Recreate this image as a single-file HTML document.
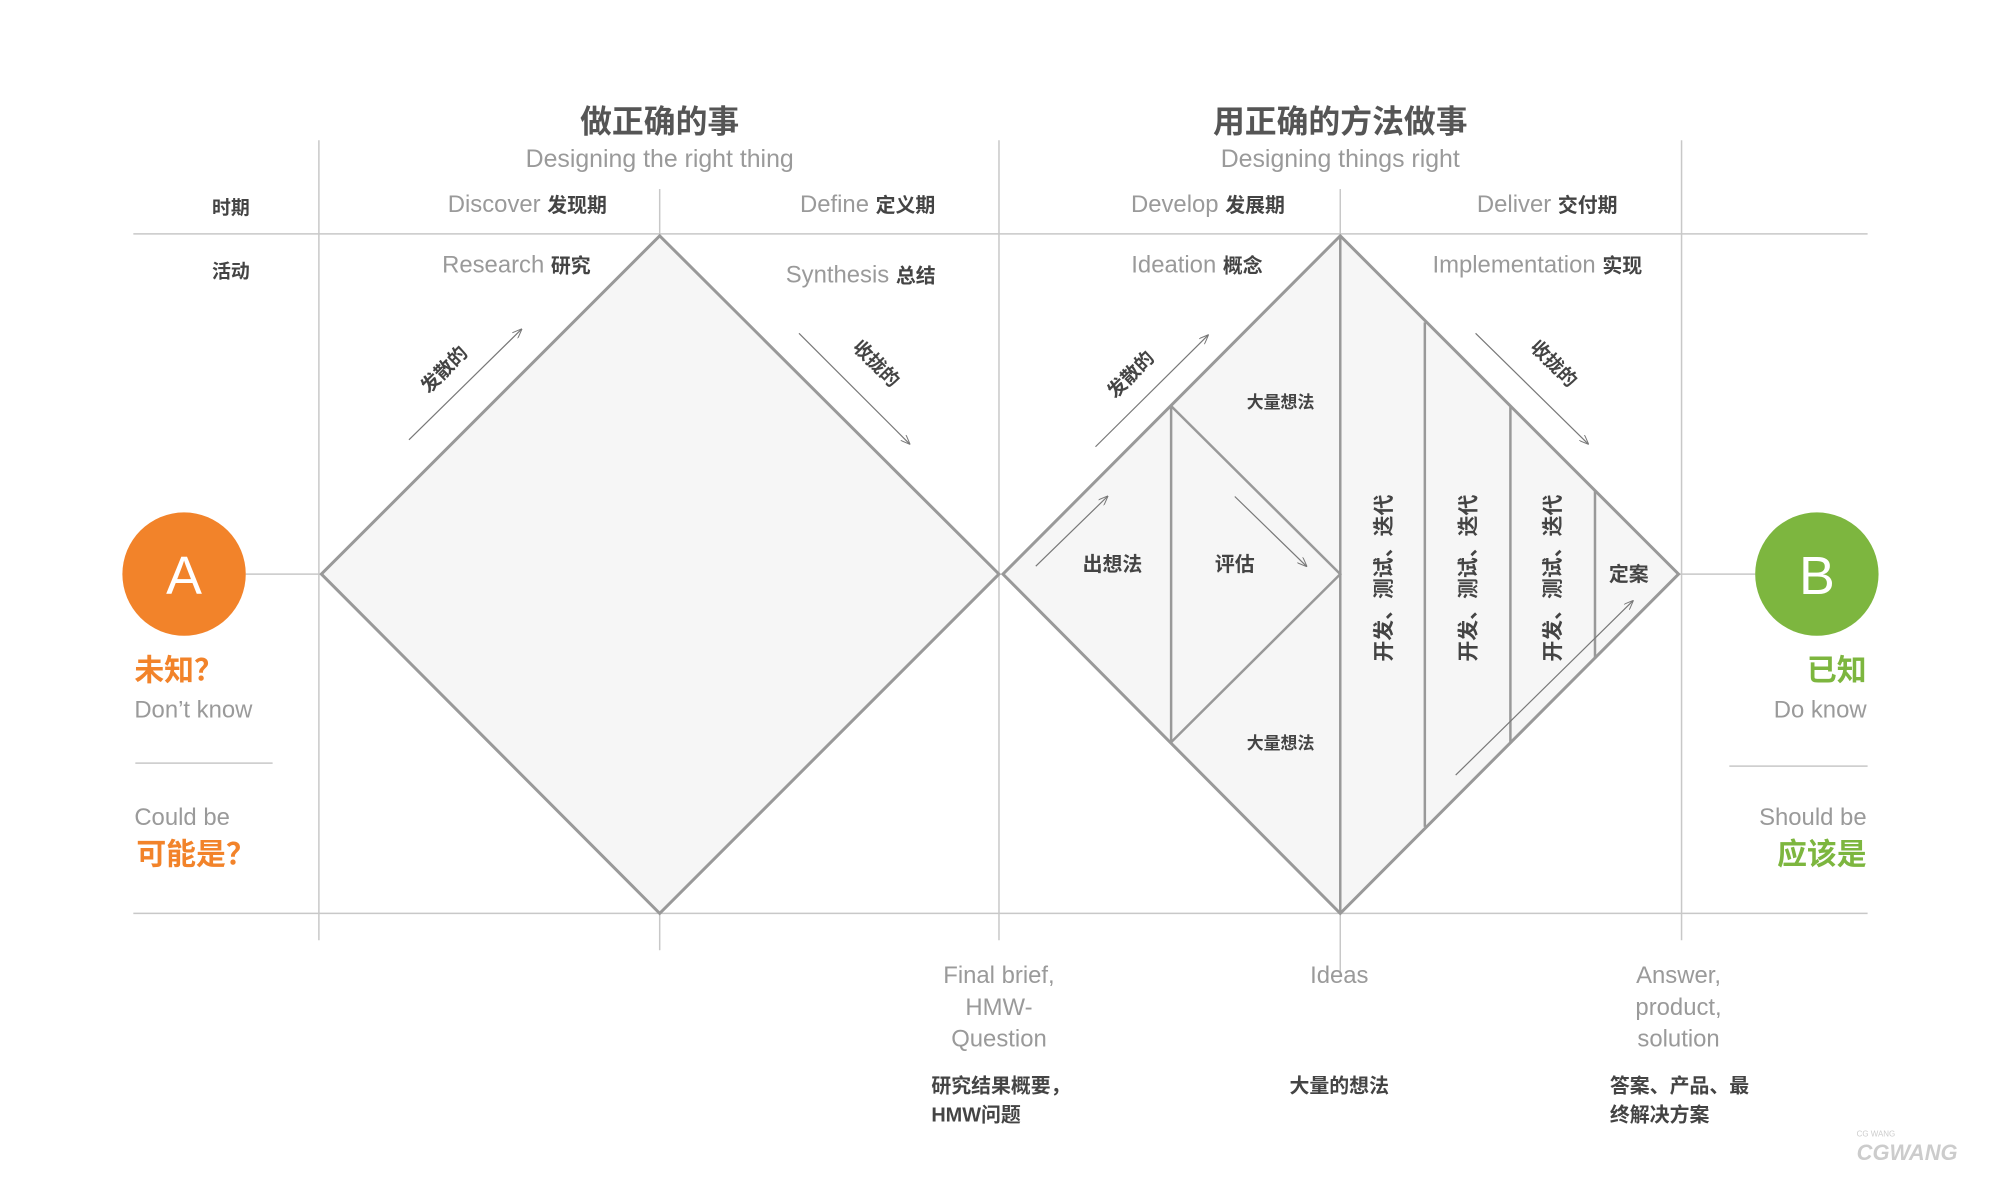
<!DOCTYPE html>
<html><head><meta charset="utf-8"><style>
html,body{margin:0;padding:0;background:#fff;}
svg{display:block;}
text{font-family:"Liberation Sans","Noto Sans CJK SC",sans-serif;}
.cn{font-family:"Liberation Sans","Noto Sans CJK SC",sans-serif;font-weight:bold;}
.g{fill:#9a9a9a;}
.d{fill:#444;}
</style></head><body>
<svg width="2000" height="1186" viewBox="0 0 2000 1186" xmlns="http://www.w3.org/2000/svg">
<defs>
<marker id="ah" markerWidth="10" markerHeight="8" refX="9" refY="4" orient="auto" markerUnits="userSpaceOnUse">
<path d="M0,0 L10,4 L0,8" fill="none" stroke="#777" stroke-width="1"/>
</marker>
</defs>
<g transform="scale(0.995)">
<!-- grid -->
<g stroke="#c8c8c8" stroke-width="1.5" fill="none">
<line x1="134" y1="235" x2="1877" y2="235"/>
<line x1="134" y1="918" x2="1877" y2="918"/>
<line x1="320.5" y1="141" x2="320.5" y2="945"/>
<line x1="1004" y1="141" x2="1004" y2="945"/>
<line x1="1690" y1="141" x2="1690" y2="945"/>
<line x1="663" y1="190" x2="663" y2="235"/>
<line x1="663" y1="918" x2="663" y2="955"/>
<line x1="1347" y1="190" x2="1347" y2="235"/>
<line x1="1347" y1="918" x2="1347" y2="981"/>
<line x1="247" y1="577" x2="323" y2="577"/>
<line x1="1687" y1="577" x2="1764" y2="577"/>
<line x1="136" y1="767" x2="274" y2="767"/>
<line x1="1738" y1="770" x2="1877" y2="770"/>
</g>
<!-- diamonds -->
<g stroke="#999" stroke-width="3" fill="#f6f6f6" stroke-linejoin="miter">
<polygon points="323,577 663,237 1004,577 663,918"/>
<polygon points="1008,577 1347,237 1687,577 1347,918"/>
</g>
<g stroke="#999" stroke-width="2.5" fill="none">
<polyline points="1177,408 1347,577 1177,746"/>
<line x1="1177" y1="408" x2="1177" y2="746"/>
<line x1="1347" y1="237" x2="1347" y2="918"/>
<line x1="1432" y1="324" x2="1432" y2="831"/>
<line x1="1518" y1="409" x2="1518" y2="746"/>
<line x1="1603" y1="494" x2="1603" y2="662"/>
</g>
<!-- arrows -->
<g stroke="#777" stroke-width="1.2" marker-end="url(#ah)">
<line x1="411" y1="442" x2="524" y2="331"/>
<line x1="803" y1="335" x2="914" y2="446"/>
<line x1="1101" y1="449" x2="1214" y2="337"/>
<line x1="1483" y1="335" x2="1596" y2="446"/>
<line x1="1041" y1="569" x2="1113" y2="499"/>
<line x1="1241" y1="499" x2="1313" y2="569"/>
<line x1="1463" y1="779" x2="1641" y2="604"/>
</g>
<!-- circles -->
<circle cx="185" cy="577" r="62" fill="#F2832A"/>
<circle cx="1826" cy="577" r="62" fill="#7DB63F"/>
<text x="185" y="597" text-anchor="middle" font-size="54" fill="#fff">A</text>
<text x="1826" y="597" text-anchor="middle" font-size="54" fill="#fff">B</text>
<!-- titles -->
<text x="663" y="133" text-anchor="middle" font-size="32" class="cn" fill="#555">做正确的事</text>
<text x="663" y="168" text-anchor="middle" font-size="25" class="g">Designing the right thing</text>
<text x="1347" y="133" text-anchor="middle" font-size="32" class="cn" fill="#555">用正确的方法做事</text>
<text x="1347" y="168" text-anchor="middle" font-size="25" class="g">Designing things right</text>
<text x="232" y="215" text-anchor="middle" font-size="19" class="cn d">时期</text>
<text x="232" y="279" text-anchor="middle" font-size="19" class="cn d">活动</text>
<text x="530" y="213" text-anchor="middle" font-size="24"><tspan class="g">Discover </tspan><tspan class="cn d" font-size="20">发现期</tspan></text>
<text x="872" y="213" text-anchor="middle" font-size="24"><tspan class="g">Define </tspan><tspan class="cn d" font-size="20">定义期</tspan></text>
<text x="1214" y="213" text-anchor="middle" font-size="24"><tspan class="g">Develop </tspan><tspan class="cn d" font-size="20">发展期</tspan></text>
<text x="1555" y="213" text-anchor="middle" font-size="24"><tspan class="g">Deliver </tspan><tspan class="cn d" font-size="20">交付期</tspan></text>
<text x="519" y="274" text-anchor="middle" font-size="24"><tspan class="g">Research </tspan><tspan class="cn d" font-size="20">研究</tspan></text>
<text x="865" y="284" text-anchor="middle" font-size="24"><tspan class="g">Synthesis  </tspan><tspan class="cn d" font-size="20">总结</tspan></text>
<text x="1203" y="274" text-anchor="middle" font-size="24"><tspan class="g">Ideation </tspan><tspan class="cn d" font-size="20">概念</tspan></text>
<text x="1545" y="274" text-anchor="middle" font-size="24"><tspan class="g">Implementation  </tspan><tspan class="cn d" font-size="20">实现</tspan></text>
<!-- rotated labels -->
<text transform="translate(451,376) rotate(-45)" text-anchor="middle" font-size="19" class="cn d">发散的</text>
<text transform="translate(876,370) rotate(45)" text-anchor="middle" font-size="19" class="cn d">收拢的</text>
<text transform="translate(1141,381) rotate(-45)" text-anchor="middle" font-size="19" class="cn d">发散的</text>
<text transform="translate(1557,370) rotate(45)" text-anchor="middle" font-size="19" class="cn d">收拢的</text>
<text x="1118" y="574" text-anchor="middle" font-size="20" class="cn d">出想法</text>
<text x="1241" y="574" text-anchor="middle" font-size="20" class="cn d">评估</text>
<text x="1287" y="410" text-anchor="middle" font-size="17" class="cn d">大量想法</text>
<text x="1287" y="753" text-anchor="middle" font-size="17" class="cn d">大量想法</text>
<text x="1637" y="584" text-anchor="middle" font-size="20" class="cn d">定案</text>
<text transform="translate(1398,581) rotate(-90)" text-anchor="middle" font-size="21" class="cn d">开发、测试、迭代</text>
<text transform="translate(1483,581) rotate(-90)" text-anchor="middle" font-size="21" class="cn d">开发、测试、迭代</text>
<text transform="translate(1568,581) rotate(-90)" text-anchor="middle" font-size="21" class="cn d">开发、测试、迭代</text>
<!-- side labels -->
<text x="135" y="684" font-size="30" class="cn" fill="#F2832A">未知？</text>
<text x="135" y="721" font-size="24" class="g">Don’t know</text>
<text x="135" y="829" font-size="24" class="g">Could be</text>
<text x="137" y="869" font-size="30" class="cn" fill="#F2832A">可能是？</text>
<text x="1876" y="684" text-anchor="end" font-size="30" class="cn" fill="#7DB63F">已知</text>
<text x="1876" y="721" text-anchor="end" font-size="24" class="g">Do know</text>
<text x="1876" y="829" text-anchor="end" font-size="24" class="g">Should be</text>
<text x="1876" y="869" text-anchor="end" font-size="30" class="cn" fill="#7DB63F">应该是</text>
<!-- bottom -->
<g font-size="24" class="g" text-anchor="middle">
<text x="1004" y="988">Final brief,</text>
<text x="1004" y="1020">HMW-</text>
<text x="1004" y="1052">Question</text>
<text x="1346" y="988">Ideas</text>
<text x="1687" y="988">Answer,</text>
<text x="1687" y="1020">product,</text>
<text x="1687" y="1052">solution</text>
</g>
<g font-size="20" class="cn d">
<text x="936" y="1098">研究结果概要，</text>
<text x="936" y="1127">HMW问题</text>
<text x="1296" y="1098">大量的想法</text>
<text x="1618" y="1098">答案、产品、最</text>
<text x="1618" y="1127">终解决方案</text>
</g>
<text x="1866" y="1166" font-size="22" font-weight="bold" fill="#ccc" font-style="italic">CGWANG</text>
<text x="1866" y="1142" font-size="8" fill="#ccc">CG WANG</text>
</g>
</svg>
</body></html>
